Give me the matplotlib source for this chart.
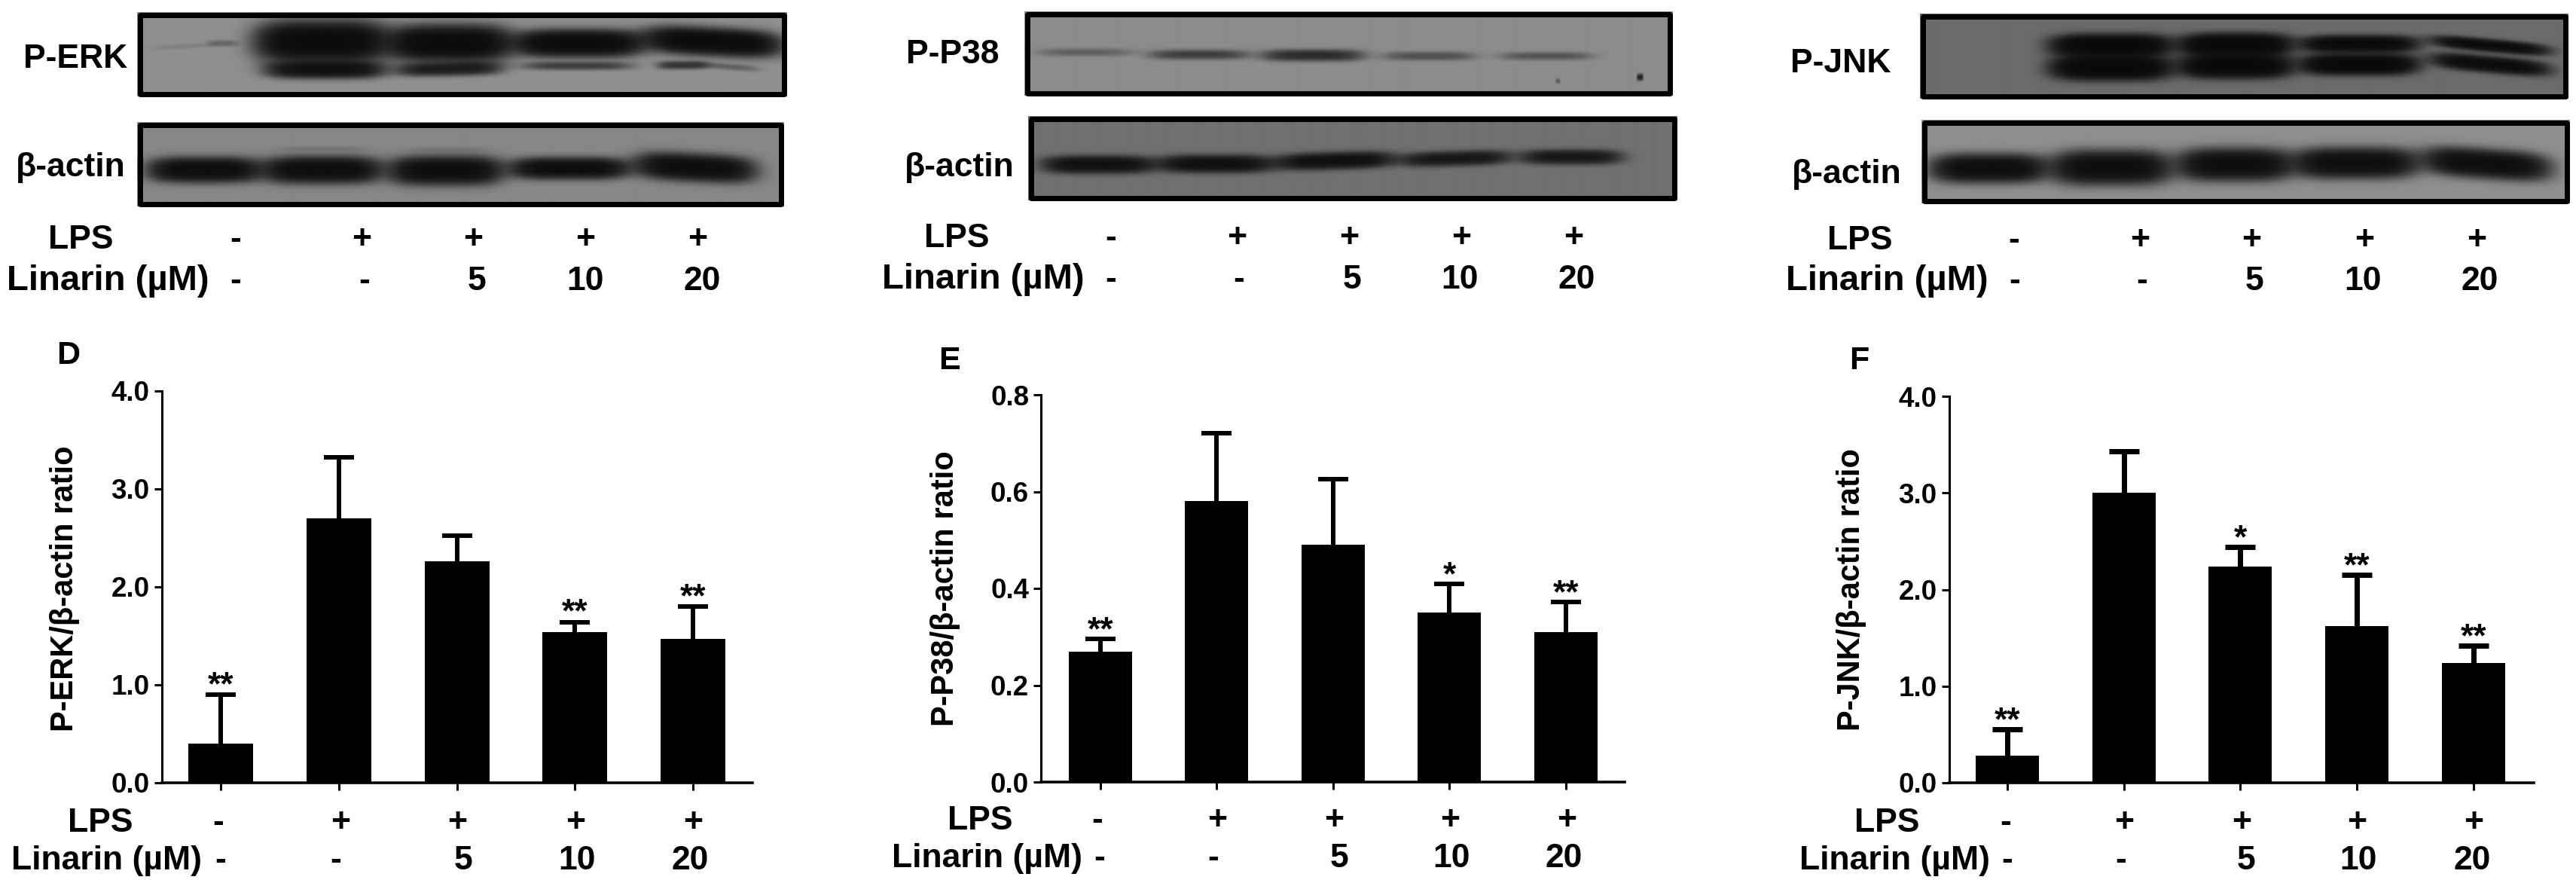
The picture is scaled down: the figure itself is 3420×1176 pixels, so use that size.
import numpy as np
import matplotlib
matplotlib.use("Agg")
import matplotlib.pyplot as plt
from matplotlib.patches import Rectangle

# ---------- data ----------
erk_values = [0.40, 2.70, 2.26, 1.54, 1.47]
erk_tops = [0.90, 3.32, 2.52, 1.64, 1.80]
erk_sig = ["**", "", "", "**", "**"]
p38_values = [0.27, 0.58, 0.49, 0.35, 0.31]
p38_tops = [0.295, 0.72, 0.625, 0.41, 0.372]
p38_sig = ["**", "", "", "*", "**"]
jnk_values = [0.28, 3.00, 2.24, 1.62, 1.24]
jnk_tops = [0.55, 3.43, 2.44, 2.15, 1.42]
jnk_sig = ["**", "", "*", "**", "**"]
lps_labels = ["-", "+", "+", "+", "+"]
linarin_labels = ["-", "-", "5", "10", "20"]
erk_yticks = [0.0, 1.0, 2.0, 3.0, 4.0]
p38_yticks = [0.0, 0.2, 0.4, 0.6, 0.8]
jnk_yticks = [0.0, 1.0, 2.0, 3.0, 4.0]

# Blot bands: centre x, centre y, half width, half height, darkness, tilt (figure pixels)
erk_bands = [(295,57,20,4,.35,0),(245,61,42,3,.12,-.05),
             (427,55,80,23,3.5,0),(596,57,74,20,3.5,0),(767,57,78,15,3.5,0),(945,55,82,15,3.5,.05),
             (431,92,72,10,2.6,0),(595,91,65,8,1.8,-.02),(765,87,69,5,.9,0),(905,86,32,5,1.1,0),(965,88,40,4,.4,.08)]
erk_actin_bands = [(271,225,68,14,3,0),(427,225,72,15,3,0),(591,226,68,16,3,0),(755,223,72,12,3,0),
                   (922,222,72,15,3,.05),(427,197,55,3,.15,0),(595,198,50,3,.1,0)]
p38_bands = [(1440,69,60,5,.4,0),(1591,72,62,6,.9,0),(1742,73,63,7,1.3,0),(1896,74,58,5.5,.6,0),
             (2052,74,59,5,.55,0),(2067,107,3,3,.5,0),(2176,102,4,4,1.5,0)]
p38_actin_bands = [(1458,218,68,10,2.5,0),(1613,217,70,10,2.5,0),(1771,213,72,9.5,2.5,-.03),
                   (1931,210,68,8.5,1.9,-.03),(2085,208,62,8.5,1.9,0)]
jnk_bands = [(2802,60,72,12.5,4,0),(2802,89,72,14,4,0),(2967,59,67,12.5,4,0),(2967,87,67,13.5,4,0),
             (3131,58,70,9.5,3.5,0),(3131,85,70,11.5,4,0),(3305,60,70,7,3,.09),(3305,85,70,9,3,.09)]
jnk_actin_bands = [(2640,223,70,16,3,0),(2802,222,72,19,3,0),(2966,218,69,18,3,0),
                   (3126,216,75,17,3,0),(3300,217,76,16,3,.07)]

FONT = "Liberation Sans"
W, H = 3420, 1176
fig = plt.figure(figsize=(W / 100, H / 100), dpi=100, facecolor="white")
ov = fig.add_axes([0, 0, 1, 1])
ov.set_axis_off()


def T(x, y, s, size=31, ha="center", rot=0, va="baseline"):
    ov.text(x, y, s, fontsize=size, ha=ha, va=va, rotation=rot, family=FONT,
            weight="bold", color="black", rotation_mode="anchor" if rot else "default")


def blot(x0, x1, y0, y1, bg, bands):
    xs, ys = np.meshgrid(np.arange(x0, x1), np.arange(y0, y1))
    dens = np.zeros_like(xs, dtype=float)
    for cx, cy, hw, hh, s, tilt in bands:
        dx = xs - cx
        dy = ys - (cy + tilt * dx)
        dens += s * np.exp(-np.abs(dx / hw) ** 4 - np.abs(dy / hh) ** 2.4)
    img = 0.03 + (bg - 0.03) * np.exp(-dens)
    ov.imshow(img, cmap="gray", vmin=0, vmax=1, extent=(x0, x1, y1, y0), aspect="auto",
              interpolation="bilinear", zorder=1)
    ov.add_patch(Rectangle((x0 + 3.5, y0 + 3.5), x1 - x0 - 7, y1 - y0 - 7, fill=False,
                           ec="black", lw=5, zorder=2, joinstyle="round"))


blot(182, 1044, 16, 128, .56, erk_bands)
blot(182, 1040, 162, 274, .53, erk_actin_bands)
blot(1360, 2220, 15, 127, .55, p38_bands)
blot(1365, 2226, 154, 266, .44, p38_actin_bands)
blot(2549, 3409, 18, 131, .42, jnk_bands)
blot(2551, 3411, 159, 270, .56, jnk_actin_bands)

EM = 42
CAP = 0.358 * EM


def rows(lps_x, lin_x, lps_y, lin_y, lps_sign_x, lin_sign_x, size, lin_size):
    T(lps_x, lps_y + CAP, "LPS", size=size)
    T(lin_x, lin_y + CAP, "Linarin (µM)", size=lin_size)
    for x, s in zip(lps_sign_x, lps_labels):
        T(x, lps_y + CAP, s, size=size)
    for x, s in zip(lin_sign_x, linarin_labels):
        T(x, lin_y + CAP, s, size=size)


# top rows
rows(107, 143, 315, 370, [313, 480, 628, 777, 926], [313, 484, 633, 777, 932], 32, 34)
rows(1270, 1305, 313, 368, [1475, 1642, 1791, 1940, 2089], [1475, 1645, 1795, 1938, 2093], 32, 34)
rows(2469, 2505, 316, 370, [2674, 2841, 2989, 3139, 3288], [2675, 2844, 2993, 3137, 3292], 32, 34)
# bottom rows
rows(133, 141, 1089, 1139, [290, 452, 607, 764, 920], [293, 446, 615, 766, 916], 32, 32)
rows(1301, 1310, 1086, 1136, [1457, 1616, 1771, 1925, 2080], [1460, 1611, 1778, 1927, 2076], 32, 32)
rows(2505, 2515, 1089, 1139, [2663, 2820, 2976, 3129, 3284], [2665, 2816, 2982, 3131, 3282], 32, 32)

# blot names
for x, y, s in [(100, 74, "P-ERK"), (94, 218, "β-actin"), (1265, 68, "P-P38"), (1274, 218, "β-actin"),
                (2444, 80, "P-JNK"), (2452, 227, "β-actin")]:
    T(x, y + 0.358 * 44, s, size=32)
for x, y, s in [(91, 468, "D"), (1260, 475, "E"), (2468, 475, "F")]:
    T(x, y + 0.358 * 42, s, size=31)

ov.set_xlim(0, W)
ov.set_ylim(H, 0)


def panel(left, right, top, zero, c0, c4, values, tops, sig, yticks, ymax, ylabel, ylx, yly, barw, elw, star_off):
    ax = fig.add_axes([left / W, 1 - zero / H, (right - left) / W, (zero - top) / H])
    ax.patch.set_alpha(0)
    step = (c4 - c0) / 4
    x = np.arange(len(values))
    v = np.array(values)
    t = np.array(tops)
    pt = 0.72
    ax.bar(x, v, width=barw / step, color="black", zorder=3)
    ax.vlines(x, v, t, color="black", lw=elw * pt, zorder=2)
    ax.plot(x, t, ls="none", marker="_", ms=40 * pt, mew=elw * pt, color="black", zorder=2, clip_on=False)
    ax.set_xlim((left - c0) / step, (right - c0) / step)
    ax.set_ylim(0, ymax)
    ax.set_xticks(x)
    ax.set_xticklabels([])
    ax.set_yticks(yticks)
    ax.set_yticklabels([f"{y:.1f}" for y in yticks], family=FONT, weight="bold", fontsize=26.5)
    ax.tick_params(axis="both", direction="out", length=7, width=2.2, pad=4.5)
    for s in ("top", "right"):
        ax.spines[s].set_visible(False)
    ax.spines["left"].set_linewidth(2.2)
    ax.spines["bottom"].set_linewidth(2.6)
    for xi, ti, s in zip(x, t, sig):
        if s:
            ax.annotate(s, (xi, ti), xytext=(0, star_off), textcoords="offset points", ha="center",
                        va="baseline", family=FONT, weight="bold", fontsize=32, annotation_clip=False)
    T(ylx, yly, ylabel, size=30, rot=90, va="center")


panel(214.5, 998.5, 519, 1039, 293, 920, erk_values, erk_tops, erk_sig, erk_yticks, 4.0,
      "P-ERK/β-actin ratio", 86, 781, 86, 6, 0)
panel(1382, 2157, 524, 1038, 1460.7, 2079, p38_values, p38_tops, p38_sig, p38_yticks, 0.8,
      "P-P38/β-actin ratio", 1255, 781, 84, 6, -1)
panel(2587.6, 3363.6, 526, 1039, 2664.7, 3284, jnk_values, jnk_tops, jnk_sig, jnk_yticks, 4.0,
      "P-JNK/β-actin ratio", 2458, 783, 84, 7, -1)

fig.savefig("out.png", dpi=100, facecolor="white")
